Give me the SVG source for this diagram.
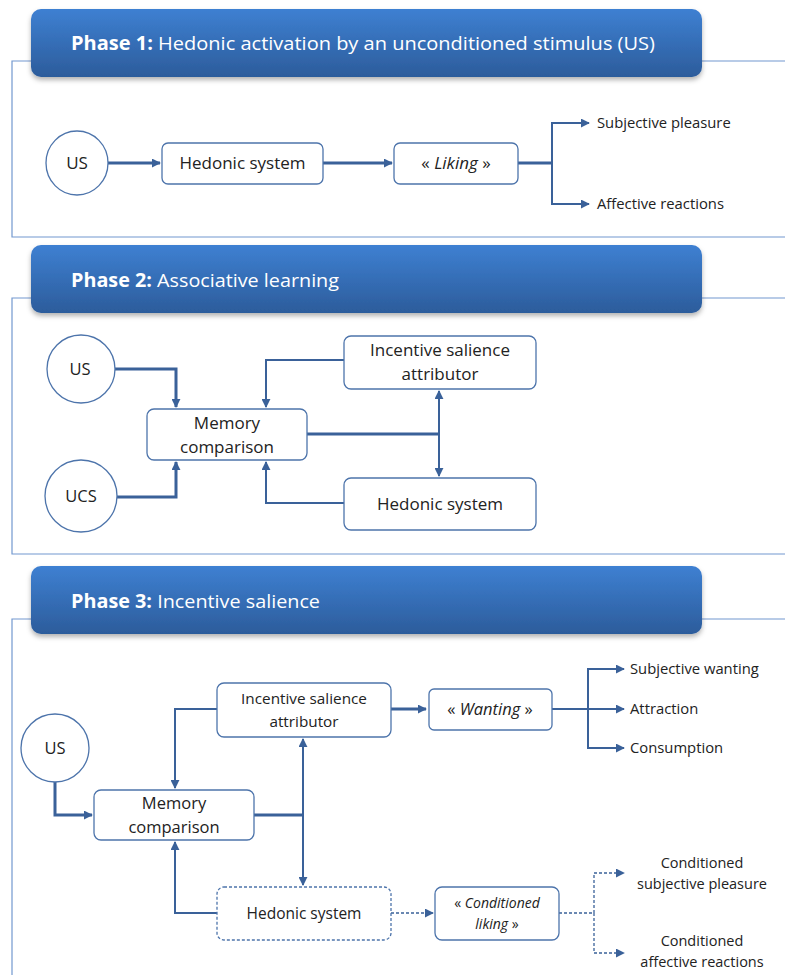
<svg xmlns="http://www.w3.org/2000/svg" width="785" height="975" viewBox="0 0 785 975">
<defs>
<linearGradient id="hdr" x1="0" y1="0" x2="0" y2="1">
<stop offset="0" stop-color="#3e80d2"/>
<stop offset="1" stop-color="#2c5c9b"/>
</linearGradient>
<filter id="sh" x="-5%" y="-20%" width="110%" height="150%">
<feDropShadow dx="0" dy="3" stdDeviation="2.5" flood-color="#000" flood-opacity="0.3"/>
</filter>
<marker id="ah" viewBox="0 0 10 10" refX="9" refY="5" markerWidth="9" markerHeight="9" markerUnits="userSpaceOnUse" orient="auto">
<path d="M0,0 L10,5 L0,10 z" fill="#3a6199"/>
</marker>
</defs>
<style>
.panel{fill:none;stroke:#7298cf;stroke-width:1.2}
.hdr{fill:url(#hdr);filter:url(#sh)}
.ht{font-family:"Open Sans","Liberation Sans",sans-serif;font-size:19px;fill:#fff}
.ht .b{font-weight:bold}
.box{fill:#fff;stroke:#4d74ab;stroke-width:1.3}
.dash{stroke-dasharray:3,2}
.t{font-family:"Open Sans","Liberation Sans",sans-serif;fill:#222;text-anchor:middle}
.s{font-family:"Open Sans","Liberation Sans",sans-serif;fill:#222;font-size:14.8px}
.c{fill:none;stroke:#3a6199;stroke-width:2}
.c3{fill:none;stroke:#3a6199;stroke-width:3}
.cd{fill:none;stroke:#3a6199;stroke-width:1.3;stroke-dasharray:3,2}
</style>

<!-- Panels -->
<g id="panels">
<path class="panel" d="M785,61 H12 V237 H785"/>
<path class="panel" d="M785,298 H12 V554 H785"/>
<path class="panel" d="M785,619 H12 V975"/>
</g>

<!-- Headers -->
<g id="header1">
<rect class="hdr" x="31" y="9" width="671" height="68" rx="10"/>
<text class="ht" x="71" y="50" textLength="584" lengthAdjust="spacingAndGlyphs"><tspan class="b">Phase 1:</tspan> Hedonic activation by an unconditioned stimulus (US)</text>
</g>
<g id="header2">
<rect class="hdr" x="31" y="245" width="671" height="68" rx="10"/>
<text class="ht" x="71" y="287" textLength="268" lengthAdjust="spacingAndGlyphs"><tspan class="b">Phase 2:</tspan> Associative learning</text>
</g>
<g id="header3">
<rect class="hdr" x="31" y="566" width="671" height="68" rx="10"/>
<text class="ht" x="71" y="608" textLength="249" lengthAdjust="spacingAndGlyphs"><tspan class="b">Phase 3:</tspan> Incentive salience</text>
</g>

<!-- Connectors -->
<g id="connectors">
<!-- phase 1 -->
<path class="c3" d="M108,163 H160" marker-end="url(#ah)"/>
<path class="c3" d="M323,163 H392" marker-end="url(#ah)"/>
<path class="c3" d="M518,163 H552"/>
<path class="c" d="M552,163 V123 H589" marker-end="url(#ah)"/>
<path class="c" d="M552,163 V204 H589" marker-end="url(#ah)"/>
<!-- phase 2 -->
<path class="c3" d="M114,369 H176 V407" marker-end="url(#ah)"/>
<path class="c3" d="M117,497 H176 V462" marker-end="url(#ah)"/>
<path class="c" d="M344,360 H266 V407" marker-end="url(#ah)"/>
<path class="c" d="M344,503 H266 V462" marker-end="url(#ah)"/>
<path class="c3" d="M307,434 H439"/>
<path class="c" d="M439,434 V391" marker-end="url(#ah)"/>
<path class="c" d="M439,434 V476" marker-end="url(#ah)"/>
<!-- phase 3 -->
<path class="c3" d="M55,782 V815 H92" marker-end="url(#ah)"/>
<path class="c" d="M217,709 H175 V788" marker-end="url(#ah)"/>
<path class="c" d="M217,913 H175 V842" marker-end="url(#ah)"/>
<path class="c3" d="M254,815 H303"/>
<path class="c" d="M303,815 V739" marker-end="url(#ah)"/>
<path class="c" d="M303,815 V885" marker-end="url(#ah)"/>
<path class="c3" d="M391,709 H426" marker-end="url(#ah)"/>
<path class="c" d="M552,709 H624" marker-end="url(#ah)"/>
<path class="c" d="M588,709 V669 H624" marker-end="url(#ah)"/>
<path class="c" d="M588,709 V748 H624" marker-end="url(#ah)"/>
<path class="cd" d="M391,913 H433" marker-end="url(#ah)"/>
<path class="cd" d="M559,913 H594 V873 H624" marker-end="url(#ah)"/>
<path class="cd" d="M594,913 V953 H624" marker-end="url(#ah)"/>
</g>

<!-- Phase 1 nodes -->
<g id="p1-us">
<ellipse class="box" cx="77" cy="163" rx="31" ry="32"/>
<text class="t" x="77" y="169" font-size="17">US</text>
</g>
<g id="p1-hedonic">
<rect class="box" x="162" y="143" width="161" height="41" rx="6"/>
<text class="t" x="242.5" y="169" font-size="17">Hedonic system</text>
</g>
<g id="p1-liking">
<rect class="box" x="394" y="143" width="124" height="41" rx="6"/>
<text class="t" x="456" y="169" font-size="17">« <tspan font-style="italic">Liking</tspan> »</text>
</g>
<g id="p1-outputs">
<text class="s" x="597" y="128">Subjective pleasure</text>
<text class="s" x="597" y="209">Affective reactions</text>
</g>

<!-- Phase 2 nodes -->
<g id="p2-us">
<ellipse class="box" cx="81" cy="369" rx="34" ry="34"/>
<text class="t" x="80" y="375" font-size="16.5">US</text>
</g>
<g id="p2-ucs">
<ellipse class="box" cx="81" cy="496" rx="36" ry="36"/>
<text class="t" x="81" y="502" font-size="16.5">UCS</text>
</g>
<g id="p2-memory">
<rect class="box" x="147" y="409" width="160" height="51" rx="7"/>
<text class="t" x="227" y="429" font-size="17">Memory</text>
<text class="t" x="227" y="453" font-size="17">comparison</text>
</g>
<g id="p2-isa">
<rect class="box" x="344" y="336" width="192" height="53" rx="7"/>
<text class="t" x="440" y="356" font-size="17">Incentive salience</text>
<text class="t" x="440" y="380" font-size="17">attributor</text>
</g>
<g id="p2-hedonic">
<rect class="box" x="344" y="478" width="192" height="52" rx="7"/>
<text class="t" x="440" y="510" font-size="17">Hedonic system</text>
</g>

<!-- Phase 3 nodes -->
<g id="p3-us">
<ellipse class="box" cx="55" cy="748" rx="34" ry="34"/>
<text class="t" x="55" y="754" font-size="16.5">US</text>
</g>
<g id="p3-memory">
<rect class="box" x="94" y="790" width="160" height="50" rx="7"/>
<text class="t" x="174" y="809" font-size="16.5">Memory</text>
<text class="t" x="174" y="833" font-size="16.5">comparison</text>
</g>
<g id="p3-isa">
<rect class="box" x="217" y="683" width="174" height="54" rx="7"/>
<text class="t" x="304" y="704" font-size="15.3">Incentive salience</text>
<text class="t" x="304" y="727" font-size="15.3">attributor</text>
</g>
<g id="p3-wanting">
<rect class="box" x="429" y="689" width="123" height="41" rx="5" stroke-width="3" stroke="#3a6199"/>
<text class="t" x="490" y="715" font-size="16.5">« <tspan font-style="italic">Wanting</tspan> »</text>
</g>
<g id="p3-outputs">
<text class="s" x="630" y="674">Subjective wanting</text>
<text class="s" x="630" y="714">Attraction</text>
<text class="s" x="630" y="753">Consumption</text>
</g>
<g id="p3-hedonic">
<rect class="box dash" x="217" y="887" width="174" height="53" rx="7"/>
<text class="t" x="304" y="919" font-size="15.5">Hedonic system</text>
</g>
<g id="p3-cliking">
<rect class="box" x="435" y="887" width="124" height="53" rx="7"/>
<text class="t" x="497" y="908" font-size="14">« <tspan font-style="italic">Conditioned</tspan></text>
<text class="t" x="497" y="929" font-size="14"><tspan font-style="italic">liking</tspan> »</text>
</g>
<g id="p3-coutputs">
<text class="t" x="702" y="868" font-size="14.5">Conditioned</text>
<text class="t" x="702" y="889" font-size="14.5">subjective pleasure</text>
<text class="t" x="702" y="946" font-size="14.5">Conditioned</text>
<text class="t" x="702" y="967" font-size="14.5">affective reactions</text>
</g>
</svg>
